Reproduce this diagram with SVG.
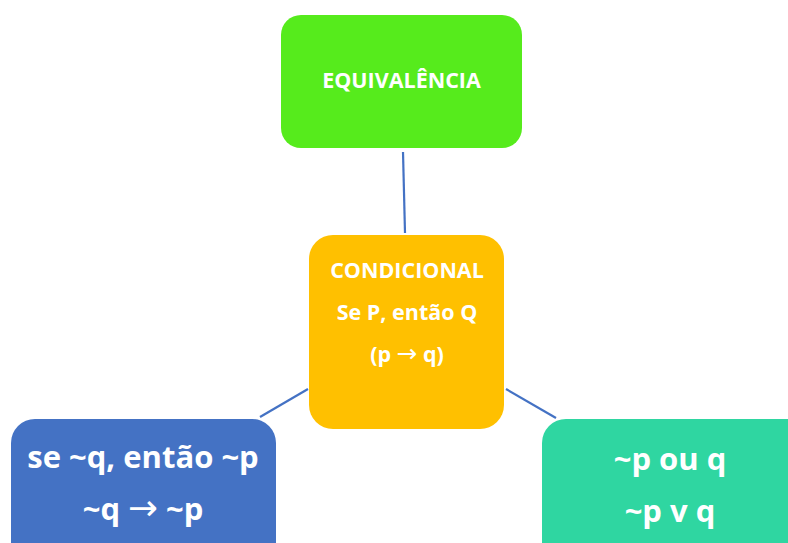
<svg xmlns="http://www.w3.org/2000/svg" width="788" height="543" viewBox="0 0 788 543">
<style>
.t{font-family:"Open Sans","Liberation Sans",sans-serif;font-weight:bold;fill:#ffffff;text-anchor:middle}
.a{font-family:"DejaVu Sans",sans-serif;font-weight:normal;font-size:1.15em}
.c{stroke:#4472C4;stroke-width:2.2;fill:none}
</style>
<rect width="788" height="543" fill="#ffffff"/>
<g id="connectors">
<line class="c" x1="403" y1="152" x2="405" y2="233"/>
<line class="c" x1="260" y1="417" x2="308" y2="389"/>
<line class="c" x1="506" y1="389" x2="556" y2="418"/>
</g>
<g id="equivalencia">
<rect x="281" y="15" width="241" height="133" rx="20" fill="#56EB1C"/>
<text class="t" x="401.5" y="88" font-size="21.5">EQUIVALÊNCIA</text>
</g>
<g id="condicional">
<rect x="309" y="235" width="195" height="194" rx="24" fill="#FFC000"/>
<text class="t" x="407" y="278" font-size="21.5">CONDICIONAL</text>
<text class="t" x="407" y="320" font-size="21.5">Se P, então Q</text>
<text class="t" x="407" y="362" font-size="21.5">(p <tspan class="a">→</tspan> q)</text>
</g>
<g id="contrapositiva">
<rect x="11" y="419" width="265" height="150" rx="24" fill="#4472C4"/>
<text class="t" x="143" y="468" font-size="31">se ~q, então ~p</text>
<text class="t" x="143" y="520" font-size="31">~q <tspan class="a">→</tspan> ~p</text>
</g>
<g id="disjuncao">
<rect x="542" y="419" width="270" height="150" rx="24" fill="#2FD6A1"/>
<text class="t" x="670" y="470" font-size="31">~p ou q</text>
<text class="t" x="670" y="522" font-size="31">~p v q</text>
</g>
</svg>
